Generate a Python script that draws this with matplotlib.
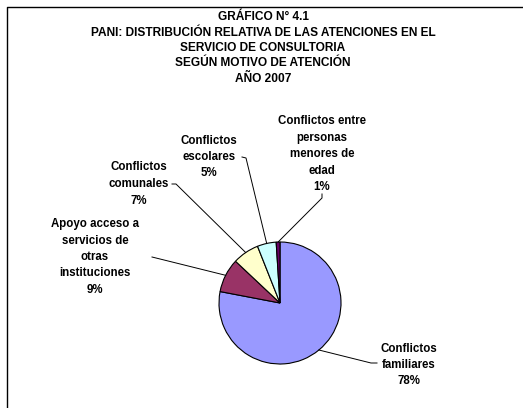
import numpy as np
import matplotlib
matplotlib.use('Agg')
import matplotlib.pyplot as plt

# ── Data ─────────────────────────────────────────────────────────────
CATEGORIES = ['Conflictos\nfamiliares',
              'Apoyo acceso a\nservicios de\notras\ninstituciones',
              'Conflictos\ncomunales',
              'Conflictos\nescolares',
              'Conflictos entre\npersonas\nmenores de\nedad']
VALUES = [78, 9, 7, 5, 1]
COLORS = ['#9999FF', '#993366', '#FFFFCC', '#CCFFFF', '#660066']

TITLE = ('GRÁFICO N° 4.1\n'
         'PANI: DISTRIBUCIÓN RELATIVA DE LAS ATENCIONES EN EL\n'
         'SERVICIO DE CONSULTORIA\n'
         'SEGÚN MOTIVO DE ATENCIÓN\n'
         'AÑO 2007')

W, H = 523, 408
plt.rcParams['font.family'] = ['Liberation Sans', 'DejaVu Sans']

fig = plt.figure(figsize=(W / 100, H / 100), dpi=100)
ax = fig.add_axes([0, 0, 1, 1])

# pixel-like helper: y measured from top
def Y(y):
    return H - y

# ── Pie ──────────────────────────────────────────────────────────────
cx, cy, r = 280, Y(303), 61
wedges, _ = ax.pie(VALUES, colors=COLORS, startangle=90, counterclock=False,
                   center=(cx, cy), radius=r, frame=True,
                   wedgeprops=dict(edgecolor='black', linewidth=0.8))
ax.set_xlim(0, W)
ax.set_ylim(0, H)
ax.set_aspect('equal')
ax.axis('off')

# frame (cut at right and bottom like the source)
ax.plot([7, 7, W], [0, Y(7), Y(7)], color='black', lw=1.0, solid_capstyle='butt')

ax.text(263, Y(48), TITLE, ha='center', va='center', fontsize=8.6,
        fontweight='bold', linespacing=1.38)

# label layout: text center (x, y from top), leader start, leader elbow
label_pos = [
    ((409, 365), (377, 363), (371, 363)),
    ((95, 257), (152, 257), (152, 257)),
    ((139, 184), (172, 184), (176, 184)),
    ((209, 157), (242, 157), (246, 158)),
    ((322, 154), (322, 194), (322, 198)),
]

for w, cat, val, ((tx, ty), (lx, ly), (ex, ey)) in zip(wedges, CATEGORIES, VALUES, label_pos):
    ang = np.deg2rad((w.theta1 + w.theta2) / 2)
    px, py = cx + r * np.cos(ang), cy + r * np.sin(ang)
    ax.text(tx, Y(ty), f'{cat}\n{val}%', ha='center', va='center',
            fontsize=8.3, fontweight='bold', linespacing=1.5)
    ax.plot([lx, ex, px], [Y(ly), Y(ey), py], color='black', lw=0.7)

fig.savefig('out.png', dpi=100)
